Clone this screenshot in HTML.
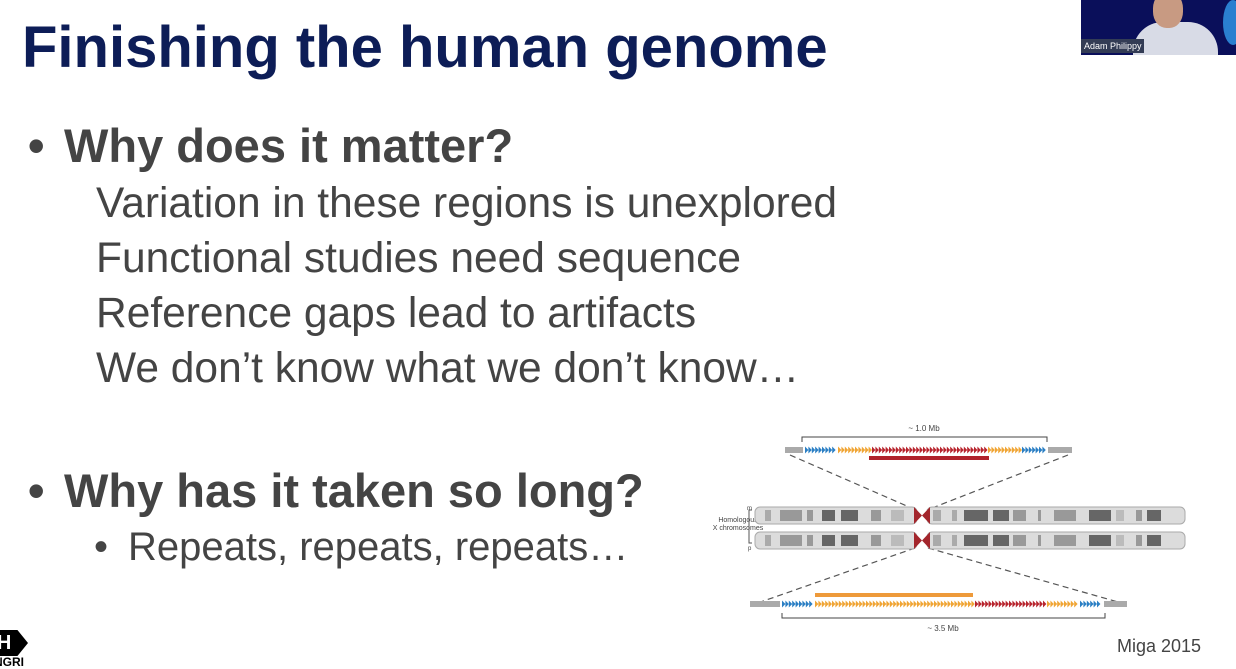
<!DOCTYPE html>
<html><head><meta charset="utf-8"><style>
body{margin:0;width:1236px;height:666px;background:#fff;position:relative;overflow:hidden;font-family:"Liberation Sans",Arial,sans-serif}
.t{position:absolute;white-space:nowrap;line-height:1}
#title{left:22px;top:19px;font-size:58px;font-weight:bold;color:#0d1d57}
.h{font-size:47px;font-weight:bold;color:#444}
.s{font-size:42.5px;color:#444}
#video{position:absolute;left:1081px;top:0;width:155px;height:55px;background:#0a0f5a;overflow:hidden}
</style></head><body>
<div id="title" class="t">Finishing the human genome</div>
<div class="t h" style="left:28px;top:122px">•</div>
<div class="t h" style="left:64px;top:122px">Why does it matter?</div>
<div class="t s" style="left:96px;top:183px">Variation in these regions is unexplored</div>
<div class="t s" style="left:96px;top:238px">Functional studies need sequence</div>
<div class="t s" style="left:96px;top:293px">Reference gaps lead to artifacts</div>
<div class="t s" style="left:96px;top:348px">We don’t know what we don’t know…</div>
<div class="t h" style="left:28px;top:467px">•</div>
<div class="t h" style="left:64px;top:467px">Why has it taken so long?</div>
<div class="t" style="left:94px;top:527px;font-size:40px;color:#444">•</div>
<div class="t" style="left:128px;top:527px;font-size:40px;color:#444">Repeats, repeats, repeats…</div>
<div class="t" style="left:1117px;top:637px;font-size:18px;color:#444">Miga 2015</div>
<div class="t" style="left:-20px;top:630px;width:48px;height:26px;background:#000;color:#fff;font-weight:bold;font-size:20px;line-height:26px;text-align:right;clip-path:polygon(0 0,78% 0,100% 50%,78% 100%,0 100%)">IH&nbsp;&nbsp;&nbsp;</div>
<div class="t" style="left:-6px;top:656px;font-size:12px;font-weight:bold">NGRI</div>
<div id="video">
<div style="position:absolute;left:52px;top:22px;width:85px;height:45px;background:#d8dbe6;border-radius:30px 30px 0 0"></div>
<div style="position:absolute;left:72px;top:-8px;width:30px;height:36px;background:#c89a82;border-radius:45%"></div>
<div style="position:absolute;left:142px;top:0;width:20px;height:45px;background:#2a7fd0;border-radius:50%"></div>
<div style="position:absolute;left:0;top:39px;width:60px;height:14px;background:#333c55;color:#fff;font-size:9px;line-height:14px;padding-left:3px">Adam Philippy</div>
</div>
<svg id="fig" width="1236" height="666" style="position:absolute;left:0;top:0">
<g fill="none" stroke="#555" stroke-width="1.2" stroke-dasharray="6,4">
<line x1="790" y1="455" x2="916" y2="510"/><line x1="1068" y1="455" x2="927" y2="510"/>
<line x1="915" y1="548" x2="752" y2="605"/><line x1="928" y1="548" x2="1125" y2="604"/>
</g>
<path d="M802 442V437H1047V442" fill="none" stroke="#444"/>
<text x="924" y="431" font-size="8" text-anchor="middle" fill="#444">~ 1.0 Mb</text>
<path d="M782 613V618H1105V613" fill="none" stroke="#444"/>
<text x="943" y="631" font-size="8" text-anchor="middle" fill="#444">~ 3.5 Mb</text>
<rect x="869" y="456" width="120" height="4" fill="#b0222b"/>
<rect x="815" y="593" width="158" height="4" fill="#ee9a3a"/>
<text x="738" y="522" font-size="7" text-anchor="middle" fill="#444">Homologous</text>
<text x="738" y="530" font-size="7" text-anchor="middle" fill="#444">X chromosomes</text>
<path d="M752 510H749V543H752" fill="none" stroke="#555"/>
<text x="747" y="510" font-size="6" fill="#444">m</text><text x="748" y="550" font-size="6" fill="#444">p</text>
<g id="chroms"></g><g id="arrows"></g>
</svg>
<script>
const topSegs=[[805,838,'#2b7fc4'],[838,872,'#f0a535'],[872,988,'#b8252e'],[988,1022,'#f0a535'],[1022,1046,'#2b7fc4']];
const botSegs=[[782,815,'#2b7fc4'],[815,975,'#f0a535'],[975,1047,'#b8252e'],[1047,1080,'#f0a535'],[1080,1103,'#2b7fc4']];
const bands=[[765,6,'#aaa'],[780,22,'#999'],[807,6,'#999'],[822,13,'#666'],[841,17,'#666'],[871,10,'#999'],[891,13,'#bbb'],[933,8,'#aaa'],[952,5,'#aaa'],[964,24,'#666'],[993,16,'#666'],[1013,13,'#999'],[1038,3,'#999'],[1054,22,'#999'],[1089,22,'#666'],[1116,8,'#bbb'],[1136,6,'#999'],[1147,14,'#666']];
const NS='http://www.w3.org/2000/svg';
function mk(t,a,p){const e=document.createElementNS(NS,t);for(const k in a)e.setAttribute(k,a[k]);p.appendChild(e);return e;}
const ag=document.getElementById('arrows'),cg=document.getElementById('chroms');
function row(segs,y,g1,g2){
  mk('rect',{x:g1[0],y:y-3,width:g1[1]-g1[0],height:6,fill:'#aaa'},ag);
  mk('rect',{x:g2[0],y:y-3,width:g2[1]-g2[0],height:6,fill:'#aaa'},ag);
  segs.forEach(s=>{for(let x=s[0];x+3<=s[1];x+=3.4){const p=mk('path',{d:`M${x} ${y-3.5}L${x+3.4} ${y}L${x} ${y+3.5}Z`,fill:s[2]},ag);

}});
}
row(topSegs,450,[785,803],[1048,1072]);
row(botSegs,604,[750,780],[1104,1127]);
[507,532].forEach((y,i)=>{
  const c=mk('rect',{x:755,y:y,width:162,height:17,rx:5,fill:'#dcdcdc',stroke:'#aaa'},cg);
  
  
  mk('rect',{x:927,y:y,width:258,height:17,rx:5,fill:'#dcdcdc',stroke:'#aaa'},cg);
  bands.forEach(b=>mk('rect',{x:b[0],y:y+3,width:b[1],height:11,fill:b[2]},cg));
  mk('path',{d:`M914 ${y}L922 ${y+8.5}L930 ${y}L930 ${y+17}L922 ${y+8.5}L914 ${y+17}Z`,fill:'#a3262c'},cg);
});
</script>
</body></html>
